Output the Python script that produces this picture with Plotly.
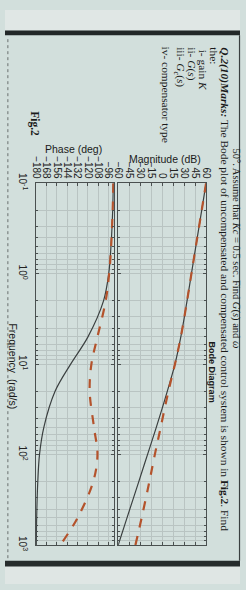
import plotly.graph_objects as go

# ---- data ----
freq = [0.1, 0.2, 0.5, 1, 2, 5, 10, 20, 50, 100, 200, 500, 1000]
mag_unc = [60, 54, 46, 40, 34, 25.5, 17.5, 7, -8, -20, -32, -48, -60]
mag_comp = [60, 54, 46, 40, 34, 25.5, 17.5, 8.5, -2, -10, -17.5, -28, -36.5]
phase_unc = [-90.7, -91.4, -93.4, -96, -102, -120, -140, -158, -171, -176, -178, -179.3, -179.7]
phase_comp = [-90.7, -91.4, -93.2, -95.5, -99.5, -109, -116, -118, -113, -109, -114, -132, -152]

mag_ticks = [-60, -45, -30, -15, 0, 15, 30, 45, 60]
phase_ticks = [-180, -168, -156, -144, -132, -120, -108, -96]
freq_ticks = [0.1, 1, 10, 100, 1000]
freq_labels = ["10<sup>-1</sup>", "10<sup>0</sup>", "10<sup>1</sup>", "10<sup>2</sup>", "10<sup>3</sup>"]
minor_freq = [m * d for d in [0.1, 1, 10, 100] for m in range(2, 10)]

W, H = 246, 590
def px(x):
    return x / W
def py(y):
    return 1 - y / H

PAPER = "#d2dfdc"
GRID = "#b9c4c2"
AX = "#4a5050"
SOLID = "#3b4040"
DASH = "#b4532c"

fig = go.Figure()
fig.add_trace(go.Scatter(x=phase_unc, y=freq, xaxis="x", yaxis="y", mode="lines",
                         line=dict(color=SOLID, width=1.2, shape="spline"), showlegend=False))
fig.add_trace(go.Scatter(x=phase_comp, y=freq, xaxis="x", yaxis="y", mode="lines",
                         line=dict(color=DASH, width=2.2, dash="dash", shape="spline"), showlegend=False))
fig.add_trace(go.Scatter(x=mag_unc, y=freq, xaxis="x2", yaxis="y2", mode="lines",
                         line=dict(color=SOLID, width=1.2, shape="spline"), showlegend=False))
fig.add_trace(go.Scatter(x=mag_comp, y=freq, xaxis="x2", yaxis="y2", mode="lines",
                         line=dict(color=DASH, width=2.2, dash="dash", shape="spline"), showlegend=False))

tickfont = dict(family="Liberation Sans, Arial", size=10, color="#222")
common_x = dict(side="top", tickangle=90, ticks="inside", ticklen=3, tickcolor=AX,
                showline=True, linecolor=AX, linewidth=1, mirror="ticks",
                showgrid=True, gridcolor=GRID, gridwidth=1, zeroline=False,
                tickfont=tickfont, fixedrange=True)
common_y = dict(type="log", range=[3, -1], ticks="inside", ticklen=3, tickcolor=AX,
                showline=True, linecolor=AX, linewidth=1, mirror="ticks",
                showgrid=True, gridcolor=GRID, gridwidth=1, zeroline=False,
                tickvals=freq_ticks, domain=[py(550), py(178)],
                minor=dict(tickvals=minor_freq, showgrid=True, gridcolor=GRID, gridwidth=0.6,
                           ticks="inside", ticklen=2, tickcolor=AX),
                tickfont=tickfont, fixedrange=True)

fig.update_layout(
    width=W, height=H, margin=dict(l=0, r=0, t=0, b=0),
    paper_bgcolor=PAPER, plot_bgcolor="rgba(0,0,0,0)",
    xaxis=dict(common_x, domain=[px(32.5), px(114)], range=[-180, -90],
               tickvals=phase_ticks, anchor="y"),
    xaxis2=dict(common_x, domain=[px(118.5), px(210.5)], range=[-60, 60],
                tickvals=mag_ticks, anchor="y2"),
    yaxis=dict(common_y, anchor="x", ticktext=freq_labels, tickangle=90, showticklabels=True,
               ticklabelstandoff=4),
    yaxis2=dict(common_y, anchor="x2", showticklabels=False),
)

# photo background pieces
shapes = [
    dict(type="rect", xref="paper", yref="paper", x0=0, x1=1, y0=py(21), y1=1,
         fillcolor="#e0e7e5", line=dict(width=0), layer="below"),
    dict(type="rect", xref="paper", yref="paper", x0=0, x1=1, y0=py(26), y1=py(21),
         fillcolor="#222828", line=dict(width=0), layer="below"),
    dict(type="rect", xref="paper", yref="paper", x0=0, x1=1, y0=py(590), y1=py(571),
         fillcolor="#dfe6e4", line=dict(width=0), layer="below"),
    dict(type="rect", xref="paper", yref="paper", x0=0, x1=1, y0=py(572), y1=py(566),
         fillcolor="#262c2c", line=dict(width=0), layer="below"),
    dict(type="line", xref="paper", yref="paper", x0=px(3), x1=px(3), y0=py(30), y1=py(565),
         line=dict(color="#6a7070", width=1, dash="dot")),
    dict(type="line", xref="paper", yref="paper", x0=px(245.5), x1=px(245.5), y0=py(26), y1=py(566),
         line=dict(color="#3a4040", width=1.2)),
]
fig.update_layout(shapes=shapes)

serif = "Liberation Serif, Times New Roman"
sans = "Liberation Sans, Arial"
ann = []
def A(text, x, y, size, family=serif, angle=90, xa="center", ya="middle", color="#1a1a1a"):
    ann.append(dict(text=text, x=px(x), y=py(y), xref="paper", yref="paper", showarrow=False,
                    textangle=angle, xanchor=xa, yanchor=ya,
                    font=dict(family=family, size=size, color=color)))

A("50°. Assume that <i>Kc</i> = 0.5 sec. Find <i>G</i>(<i>s</i>) and <i>ω</i>", 241.5, 140, 10.5, ya="top")
A("<b><i>Q.2(10)Marks:</i></b> The Bode plot of uncompensated and compensated control system is shown in <b>Fig.2</b>. Find",
  230, 36, 11.4, ya="top")
A("the:", 219, 36, 11.4, ya="top")
A("i- gain <i>K</i>", 207, 39, 11.4, ya="top")
A("ii- <i>G</i>(<i>s</i>)", 195, 36, 11.4, ya="top")
A("iii- <i>G<sub>c</sub></i>(<i>s</i>)", 183, 36, 11.4, ya="top")
A("iv- compensator type", 169, 36, 11.4, ya="top")
A("<b>Fig.2</b>", 31, 117, 11.5)
A("<b>Bode Diagram</b>", 217, 372, 9, family=sans)
A("Magnitude (dB)", 167, 153, 10.5, family=sans, angle=0)
A("Phase (deg)", 72, 143, 10.5, family=sans, angle=0)
A("Frequency  (rad/s)", 8, 366, 10.5, family=sans)
fig.update_layout(annotations=ann)

fig.write_html("out.html")
